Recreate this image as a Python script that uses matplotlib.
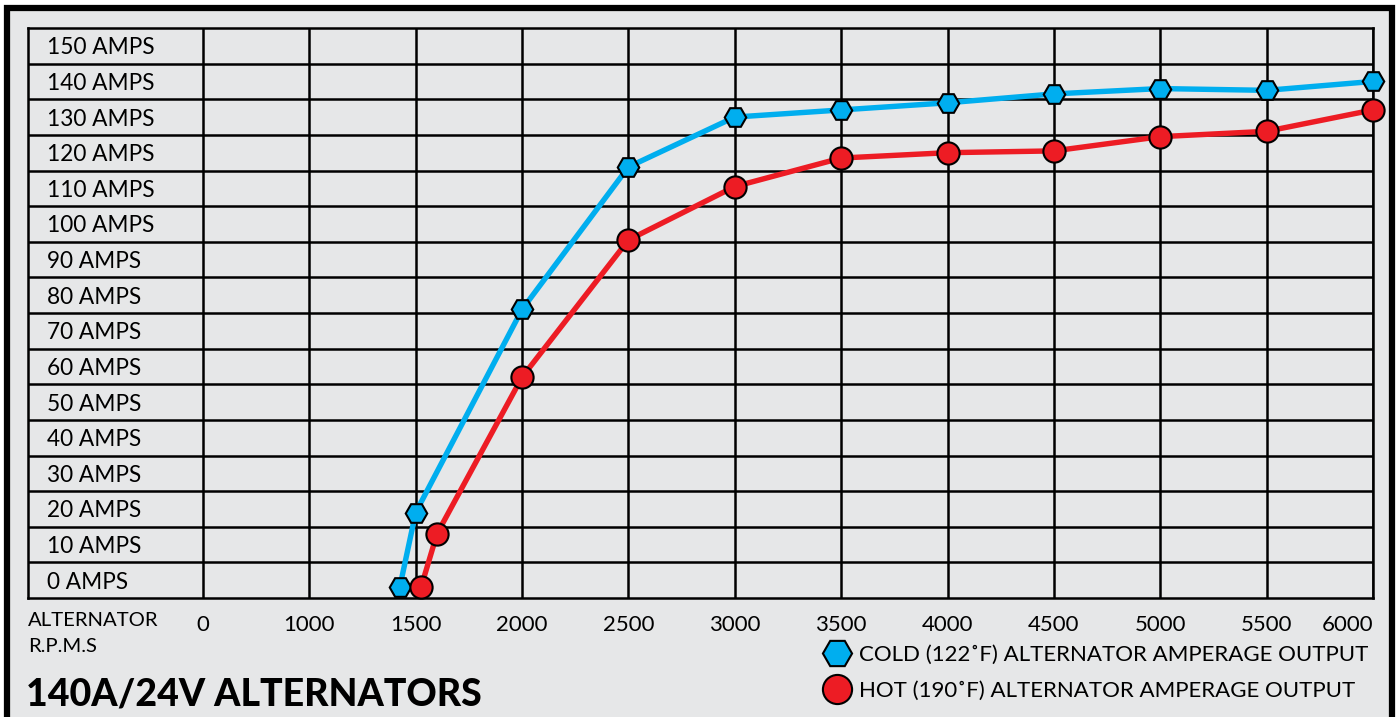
import numpy as np
import matplotlib
matplotlib.use("Agg")
import matplotlib.pyplot as plt
from matplotlib.lines import Line2D
from matplotlib.patches import Rectangle
from matplotlib.transforms import offset_copy

# ---- data ----
cold_rpm = [1425, 1500, 2000, 2500, 3000, 3500, 4000, 4500, 5000, 5500, 6000]
cold_amps = [-2, 19, 76, 116, 130, 132, 134, 136.5, 138, 137.5, 140]
hot_rpm = [1525, 1600, 2000, 2500, 3000, 3500, 4000, 4500, 5000, 5500, 6000]
hot_amps = [-2, 13, 57, 95.5, 110.5, 118.5, 120, 120.5, 124.5, 126, 132]
x_ticks = [0, 1000, 1500, 2000, 2500, 3000, 3500, 4000, 4500, 5000, 5500, 6000]
y_levels = [0, 10, 20, 30, 40, 50, 60, 70, 80, 90, 100, 110, 120, 130, 140, 150]
cold_label = "COLD (122˚F) ALTERNATOR AMPERAGE OUTPUT"
hot_label = "HOT (190˚F) ALTERNATOR AMPERAGE OUTPUT"
title = "140A/24V ALTERNATORS"

BLUE = "#00aeef"
RED = "#ed1c24"
BG = "#e6e7e8"
FONT = ["Lato", "DejaVu Sans"]
plt.rcParams["font.family"] = FONT

W, H = 1400, 717
fig = plt.figure(figsize=(W / 100, H / 100), dpi=100)
fig.patch.set_facecolor("white")

def fx(px):
    return px / W

def fy(py):
    return 1 - py / H

# outer frame
fig.patches.append(Rectangle((fx(7), fy(740)), fx(1392) - fx(7), fy(8) - fy(740),
                             transform=fig.transFigure, facecolor=BG,
                             edgecolor="black", linewidth=4.5, zorder=-5))

ax = fig.add_axes([fx(28), fy(598), fx(1373) - fx(28), fy(28) - fy(598)])
ax.set_zorder(2)
ax.set_facecolor(BG)

def fwd(x):
    x = np.asarray(x, dtype=float)
    return np.where(x <= 1000, x / 1000.0, 1 + (x - 1000) / 500.0)

def inv(p):
    p = np.asarray(p, dtype=float)
    return np.where(p <= 1, p * 1000.0, 1000 + (p - 1) * 500.0)

ax.set_xscale("function", functions=(fwd, inv))
ax.set_xlim(-1645, 6000)
ax.set_ylim(-5, 155)

# grid
ax.set_xticks(x_ticks)
ax.set_xticklabels([str(v) for v in x_ticks])
ax.set_yticks(np.array(y_levels[:-1]) + 5)
ax.set_yticklabels([])
ax.tick_params(length=0, labelsize=16, pad=12)
ax.grid(True, color="black", linewidth=1.8, zorder=1)
ax.set_axisbelow(True)
for s in ax.spines.values():
    s.set_linewidth(1.8)
    s.set_color("black")
labels = ax.get_xticklabels()
labels[-1].set_ha("right")

ytr = offset_copy(ax.get_yaxis_transform(), fig=fig, x=0, y=-2, units="dots")
for v in y_levels:
    ax.text(0.0141, v, f"{v} AMPS", transform=ytr,
            ha="left", va="center", fontsize=16.3)

ax.plot(cold_rpm, cold_amps, color=BLUE, lw=3.9, marker="H", ms=15.5,
        mfc=BLUE, mec="black", mew=1.5, zorder=3, clip_on=False)
ax.plot(hot_rpm, hot_amps, color=RED, lw=3.9, marker="o", ms=16,
        mfc=RED, mec="black", mew=1.5, zorder=4, clip_on=False)

fig.text(fx(28), fy(620), "ALTERNATOR", ha="left", va="center", fontsize=14.6)
fig.text(fx(28), fy(647), "R.P.M.S", ha="left", va="center", fontsize=14.6)
fig.text(fx(26), fy(694), title, ha="left", va="center", fontsize=27,
         fontweight="black")

handles = [
    Line2D([], [], ls="none", marker="H", ms=21, mfc=BLUE, mec="black", mew=1.5),
    Line2D([], [], ls="none", marker="o", ms=21, mfc=RED, mec="black", mew=1.5),
]
fig.legend(handles, [cold_label, hot_label], loc="upper left",
           bbox_to_anchor=(fx(826), fy(645)), frameon=False, fontsize=16,
           handlelength=1.0, handletextpad=0.5, labelspacing=0.72,
           borderpad=0, borderaxespad=0)

fig.savefig("out.png", dpi=100, facecolor="white")
